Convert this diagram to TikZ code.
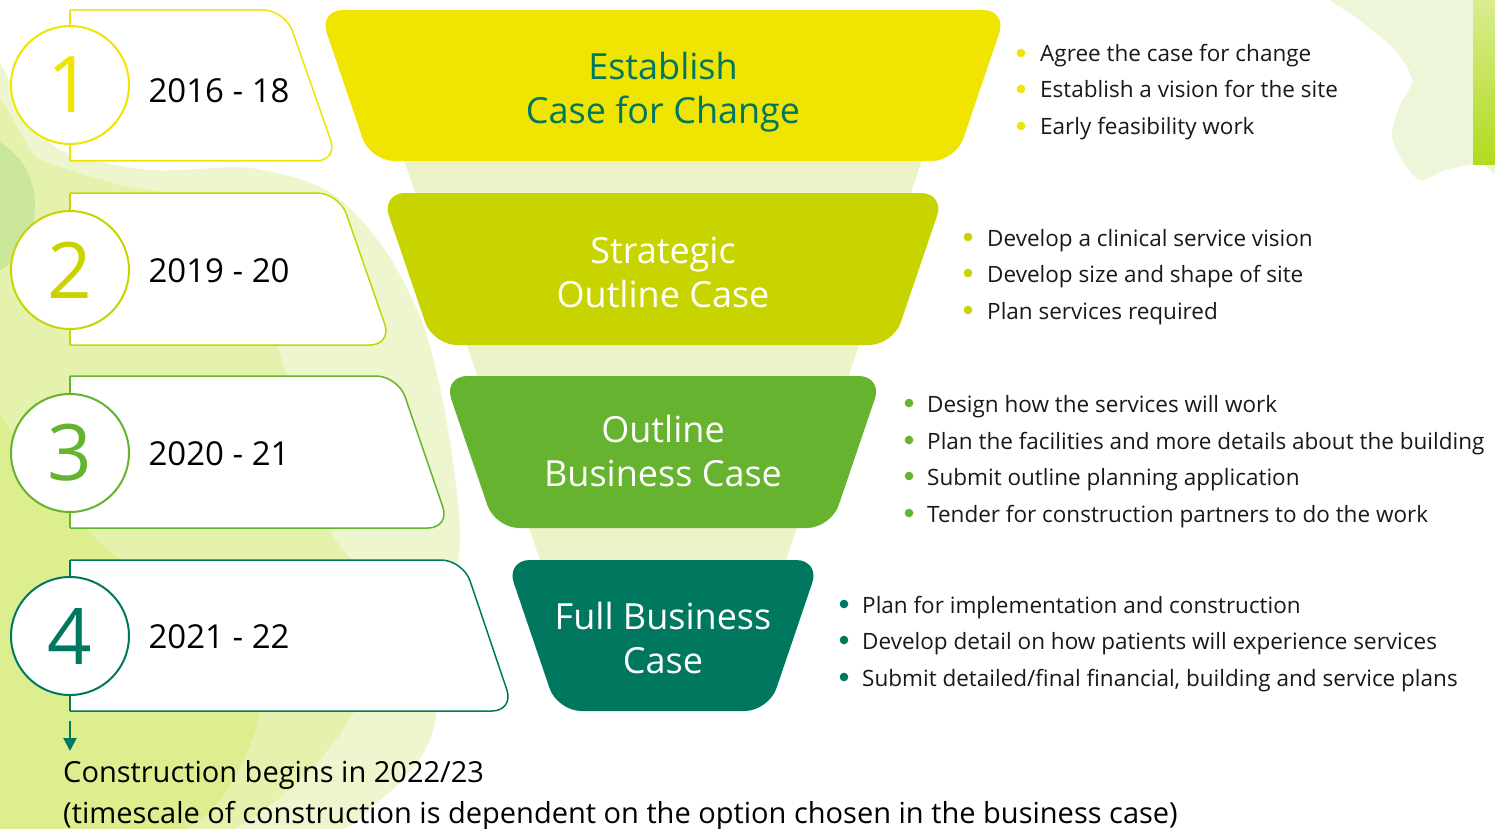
\documentclass[tikz,border=0pt]{standalone}
\usepackage{fontspec}
\setmainfont{Open Sans}
\usetikzlibrary{arrows.meta}
\definecolor{cyel}{HTML}{F0E500}
\definecolor{clime}{HTML}{C8D400}
\definecolor{cgreen}{HTML}{65B32E}
\definecolor{cteal}{HTML}{00775F}
\definecolor{clight}{HTML}{EEF2C8}
\definecolor{wcA}{HTML}{EEF6D0}
\definecolor{wcB}{HTML}{E2F1A0}
\definecolor{wcC}{HTML}{D6EC78}
\definecolor{wcD}{HTML}{B9E08E}
\definecolor{wcR}{HTML}{EEF6DA}
\definecolor{wcS}{HTML}{B2DA1E}
\begin{document}
\begin{tikzpicture}[x=1pt,y=-1pt,
  bandtext/.style={align=center,font=\fontsize{36}{44}\selectfont},
  yeartext/.style={anchor=west,font=\fontsize{33}{40}\selectfont,text=black},
  digit/.style={circle,fill=white,line width=2,minimum size=118,inner sep=0,font=\fontsize{78}{80}\selectfont},
  bul/.style={anchor=base west,font=\fontsize{22.5}{30}\selectfont,text=black!90,inner sep=0},
  note/.style={anchor=base west,font=\fontsize{29}{34}\selectfont,text=black,inner sep=0},
  tabline/.style={line width=1.5}]
\useasboundingbox (0,0) rectangle (1495,829);
\fill[white] (0,0) rectangle (1495,829);
% ---------- watercolour background ----------
\fill[wcA] plot[smooth cycle,tension=0.5] coordinates {(-20,100) (25,110) (60,150) (150,170) (250,168) (330,192) (385,250) (425,330) (448,430) (460,540) (445,640) (430,740) (380,800) (300,840) (-20,840)};
\fill[wcB,opacity=0.7] plot[smooth cycle,tension=0.5] coordinates {(-20,130) (40,160) (120,185) (200,205) (260,300) (300,420) (330,530) (380,600) (360,700) (300,780) (200,840) (-20,840)};
\fill[wcC,opacity=0.6] plot[smooth cycle,tension=0.5] coordinates {(-20,420) (40,480) (120,560) (200,600) (260,700) (220,800) (150,840) (-20,840)};
\fill[wcD,opacity=0.6] plot[smooth cycle,tension=0.5] coordinates {(-20,140) (20,160) (35,200) (25,250) (-20,270)};
\fill[wcR] plot[smooth cycle,tension=0.5] coordinates {(1330,-10) (1360,20) (1395,50) (1412,80) (1400,105) (1392,135) (1402,160) (1420,180) (1445,170) (1480,163) (1500,163) (1500,-10)};
\shade[top color=wcS!50,bottom color=wcS] (1473,0) rectangle (1495,165);
% ---------- funnel ----------
\fill[clight] (400.6,150) -- (925.4,150) -- (782.6,570) -- (543.4,570) -- cycle;
\fill[cyel,rounded corners=24]   (663,10)  -- (1007,10)  -- (955.7,161) -- (370.3,161) -- (319,10)  -- cycle;
\fill[clime,rounded corners=24]  (663,193) -- (944.8,193) -- (893.1,345) -- (432.9,345) -- (381.2,193) -- cycle;
\fill[cgreen,rounded corners=24] (663,376) -- (882.6,376) -- (830.9,528) -- (495.1,528) -- (443.4,376) -- cycle;
\fill[cteal,rounded corners=24]  (663,560) -- (820,560)   -- (768.7,711) -- (557.3,711) -- (506,560)  -- cycle;
\node[bandtext,text=cteal] (s1) at (663,92)  {Establish\\Case for Change};
\node[bandtext,text=white] (s2) at (663,272) {Strategic\\Outline Case};
\node[bandtext,text=white] (s3) at (663,451) {Outline\\Business Case};
\node[bandtext,text=white] (s4) at (663,638) {Full Business\\Case};
% ---------- tabs ----------
\foreach \t/\b/\xt/\xb/\c in {10/161/285/338/cyel, 193/345/339/392/clime, 376/528/398/450/cgreen, 560/711/463/514/cteal}{
  \fill[white,rounded corners=22] (70,\t) -- (\xt,\t) -- (\xb,\b) -- (70,\b) -- cycle;
  \fill[white] (70,\t) rectangle (120,\b);
  \draw[\c,tabline,rounded corners=22] (70,\t) -- (\xt,\t) -- (\xb,\b) -- (70,\b);
  \draw[\c,tabline] (70,\t) -- (70,\b);
}
\node[digit,draw=cyel,text=cyel]     (n1) at (70,85)  {1};
\node[digit,draw=clime,text=clime]   (n2) at (70,270) {2};
\node[digit,draw=cgreen,text=cgreen] (n3) at (70,453) {3};
\node[digit,draw=cteal,text=cteal]   (n4) at (70,636) {4};
\node[yeartext] (y1) at (145,91)  {2016 - 18};
\node[yeartext] (y2) at (145,271) {2019 - 20};
\node[yeartext] (y3) at (145,454) {2020 - 21};
\node[yeartext] (y4) at (145,637) {2021 - 22};
% ---------- bullets ----------
\foreach \y/\txt [count=\i] in {62/{Agree the case for change}, 98/{Establish a vision for the site}, 135/{Early feasibility work}}{
  \fill[cyel] (1021,\y-9) circle (4.3);
  \node[bul] (a\i) at (1040,\y) {\txt};}
\foreach \y/\txt [count=\i] in {246/{Develop a clinical service vision}, 282/{Develop size and shape of site}, 319/{Plan services required}}{
  \fill[clime] (968,\y-9) circle (4.3);
  \node[bul] (b\i) at (987,\y) {\txt};}
\foreach \y/\txt [count=\i] in {412/{Design how the services will work}, 449/{Plan the facilities and more details about the building}, 485/{Submit outline planning application}, 522/{Tender for construction partners to do the work}}{
  \fill[cgreen] (909,\y-9) circle (4.3);
  \node[bul] (c\i) at (927,\y) {\txt};}
\foreach \y/\txt [count=\i] in {613/{Plan for implementation and construction}, 649/{Develop detail on how patients will experience services}, 686/{Submit detailed/final financial, building and service plans}}{
  \fill[cteal] (844,\y-9) circle (4.3);
  \node[bul] (d\i) at (862,\y) {\txt};}
% ---------- construction note ----------
\coordinate (arrS) at (70,721);
\coordinate (arrE) at (70,751);
\draw[cteal,line width=2,-{Triangle[length=13,width=13]}] (arrS) -- (arrE);
\node[note] (nt1) at (63,782) {Construction begins in 2022/23};
\node[note] (nt2) at (63,823) {(timescale of construction is dependent on the option chosen in the business case)};
\end{tikzpicture}
\end{document}
